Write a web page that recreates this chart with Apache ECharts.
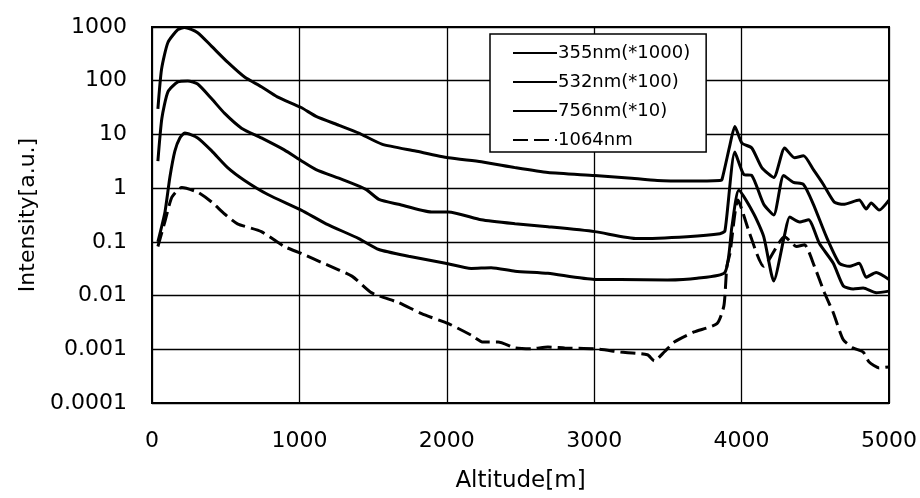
<!DOCTYPE html>
<html>
<head>
<meta charset="utf-8">
<script src="https://cdn.jsdelivr.net/npm/echarts@6/dist/echarts.min.js"></script>
<style>html,body{margin:0;padding:0;background:#fff}#c{width:920px;height:498px}</style>
</head>
<body>
<div id="c"></div>
<script>
var seriesNames = ['355nm(*1000)', '532nm(*100)', '756nm(*10)', '1064nm'];
var xTicks = [0, 1000, 2000, 3000, 4000, 5000];
var yTickLabels = ['0.0001', '0.001', '0.01', '0.1', '1', '10', '100', '1000'];

var data355 = [[40,30],[65,165],[108,515],[175,890],[220,980],[310,785],[405,435],[513,221],[628,117],[742,77],[850,50],[1012,31.7],[1113,21.7],[1269,14.8],[1403,10.6],[1559,6.6],[1788,4.9],[2011,3.67],[2234,3.1],[2463,2.41],[2686,1.95],[3003,1.72],[3230,1.55],[3428,1.39],[3650,1.36],[3853,1.39],[3867,1.45],[3921,6.4],[3954,14.1],[4002,6.9],[4069,5.6],[4137,2.41],[4218,1.58],[4292,5.6],[4359,3.67],[4420,4.0],[4487,2.21],[4555,1.17],[4629,0.55],[4690,0.50],[4798,0.60],[4845,0.41],[4879,0.53],[4933,0.39],[5000,0.60]];
var data532 = [[40,3.2],[67,20],[108,62],[175,95],[243,99],[310,87],[405,46],[493,24.6],[607,13.1],[742,8.6],[897,5.15],[1012,3.24],[1113,2.21],[1289,1.45],[1451,0.95],[1539,0.62],[1673,0.50],[1896,0.36],[2011,0.36],[2234,0.257],[2463,0.217],[2686,0.191],[3003,0.155],[3293,0.115],[3630,0.125],[3853,0.142],[3887,0.16],[3954,4.7],[4015,1.79],[4069,1.72],[4150,0.50],[4218,0.317],[4285,1.72],[4352,1.28],[4420,1.17],[4487,0.50],[4575,0.125],[4663,0.040],[4730,0.035],[4798,0.040],[4845,0.022],[4913,0.027],[5000,0.020]];
var data756 = [[40,0.1],[88,0.36],[121,1.58],[155,4.9],[189,8.6],[223,10.6],[310,8.6],[405,4.94],[513,2.41],[628,1.39],[783,0.77],[1012,0.39],[1181,0.217],[1403,0.115],[1539,0.072],[1741,0.054],[1991,0.040],[2166,0.032],[2301,0.033],[2463,0.0285],[2686,0.026],[3003,0.020],[3178,0.020],[3496,0.0195],[3698,0.021],[3887,0.027],[3934,0.19],[3981,0.91],[4083,0.33],[4150,0.125],[4218,0.0187],[4292,0.136],[4326,0.29],[4393,0.235],[4454,0.257],[4528,0.093],[4622,0.040],[4690,0.0151],[4757,0.0133],[4825,0.0138],[4913,0.0113],[5000,0.0121]];
var data1064 = [[40,0.082],[88,0.24],[135,0.68],[202,1.03],[310,0.84],[405,0.55],[493,0.33],[580,0.217],[742,0.155],[897,0.082],[1012,0.061],[1181,0.038],[1356,0.023],[1491,0.0112],[1673,0.0074],[1829,0.0046],[2011,0.0030],[2166,0.00183],[2247,0.00136],[2348,0.00136],[2463,0.00106],[2571,0.00102],[2686,0.0011],[2800,0.00106],[3003,0.00102],[3178,0.00089],[3361,0.00079],[3408,0.00061],[3475,0.00089],[3543,0.00136],[3678,0.0021],[3833,0.0030],[3880,0.0065],[3900,0.035],[3921,0.061],[3975,0.6],[4055,0.142],[4150,0.035],[4292,0.125],[4373,0.082],[4427,0.088],[4494,0.035],[4562,0.0113],[4622,0.0048],[4690,0.0015],[4757,0.00106],[4825,0.00089],[4865,0.00058],[4933,0.00045],[5000,0.00047]];

var allData = [data355, data532, data756, data1064];
var font = 'DejaVu Sans, sans-serif';

var chart = echarts.init(document.getElementById('c'), null, {renderer: 'canvas'});
chart.setOption({
  animation: false,
  backgroundColor: '#fff',
  grid: {left: 152, right: 27, top: 27, bottom: 89, show: true, borderColor: '#000', borderWidth: 2, backgroundColor: 'transparent'},
  legend: {
    orient: 'vertical', left: 490, top: 34,
    backgroundColor: '#fff', borderColor: '#000', borderWidth: 1.5, borderRadius: 0,
    padding: [10, 16, 3, 22], itemWidth: 44, itemHeight: 14, itemGap: 11,
    itemStyle: {opacity: 0},
    textStyle: {fontFamily: font, fontSize: 18, color: '#000', padding: [0, 0, 0, -4]},
    data: seriesNames
  },
  xAxis: {
    type: 'value', min: xTicks[0], max: xTicks[xTicks.length - 1], interval: 1000,
    name: 'Altitude[m]', nameLocation: 'middle', nameGap: 67,
    nameTextStyle: {fontFamily: font, fontSize: 23, color: '#000'},
    axisLine: {show: false}, axisTick: {show: false},
    axisLabel: {fontFamily: font, fontSize: 22, color: '#000', margin: 27,
      formatter: function (v) { return String(v); }},
    splitLine: {show: true, lineStyle: {color: '#000', width: 1.3}}
  },
  yAxis: {
    type: 'log', logBase: 10, min: 0.0001, max: 1000, splitNumber: 7,
    name: 'Intensity[a.u.]', nameLocation: 'middle', nameGap: 113,
    nameTextStyle: {fontFamily: font, fontSize: 22, color: '#000'},
    axisLine: {show: false}, axisTick: {show: false},
    axisLabel: {fontFamily: font, fontSize: 22, color: '#000', margin: 25,
      formatter: function (v) { var i = Math.round(Math.log10(v)) + 4; return yTickLabels[i] || ''; }},
    splitLine: {show: true, lineStyle: {color: '#000', width: 1.3}},
    minorSplitLine: {show: false}
  },
  series: seriesNames.map(function (n, i) {
    return {
      name: n, type: 'line', data: allData[i], symbol: 'none', smooth: 0.2,
      lineStyle: {color: '#000', width: 3, type: i === 3 ? [15, 6] : 'solid'},
      itemStyle: {color: '#000'}
    };
  })
});
</script>
</body>
</html>
